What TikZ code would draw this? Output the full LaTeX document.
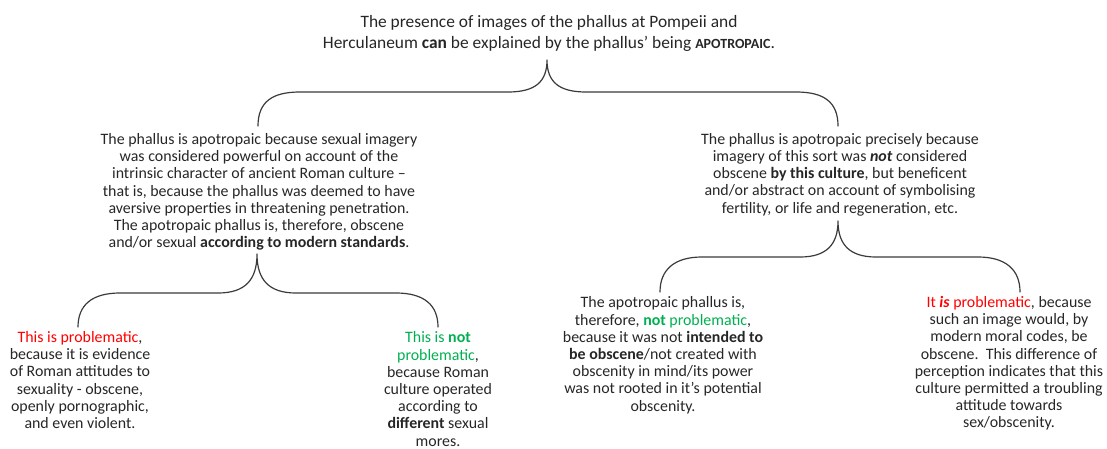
\documentclass[tikz,border=0pt]{standalone}
\usepackage{fontspec}
\setmainfont{Carlito}
\definecolor{txt}{HTML}{262626}
\definecolor{ln}{HTML}{3A3A3A}
\definecolor{red1}{HTML}{FF0000}
\definecolor{grn}{HTML}{00B050}
\newcommand{\smc}[1]{{\fontsize{14}{14}\selectfont #1}}
\begin{document}
\begin{tikzpicture}[x=1pt,y=-1pt,
  txtnode/.style={align=center,inner sep=0pt,anchor=base,text=txt,font=\fontsize{15.9}{17.2}\selectfont},
  topnode/.style={align=center,inner sep=0pt,anchor=base,text=txt,font=\fontsize{17.4}{20.6}\selectfont},
  brace/.style={draw=ln,line width=1.2pt,line cap=round,line join=round}]
\useasboundingbox (0,0) rectangle (1107,449);

\node[topnode] (top) at (549,48.5) {The presence of images of the phallus at Pompeii and\\
Herculaneum \textbf{can} be explained by the phallus’ being \textbf{\smc{APOTROPAIC}}.};

\node[txtnode] (ml) at (259,247.7) {The phallus is apotropaic because sexual imagery\\
was considered powerful on account of the\\
intrinsic character of ancient Roman culture –\\
that is, because the phallus was deemed to have\\
aversive properties in threatening penetration.\\
The apotropaic phallus is, therefore, obscene\\
and/or sexual \textbf{according to modern standards}.};

\node[txtnode] (mr) at (840,213) {The phallus is apotropaic precisely because\\
imagery of this sort was \textbf{\textit{not}} considered\\
obscene \textbf{by this culture}, but beneficent\\
and/or abstract on account of symbolising\\
fertility, or life and regeneration, etc.};

\node[txtnode] (b1) at (80,428.5) {\textcolor{red1}{This is problematic},\\
because it is evidence\\
of Roman attitudes to\\
sexuality - obscene,\\
openly pornographic,\\
and even violent.};

\node[txtnode] (b2) at (438,446) {\textcolor{grn}{This is \textbf{not}}\\
\textcolor{grn}{problematic},\\
because Roman\\
culture operated\\
according to\\
\textbf{different} sexual\\
mores.};

\node[txtnode] (b3) at (663,411) {The apotropaic phallus is,\\
therefore, \textcolor{grn}{\textbf{not} problematic},\\
because it was not \textbf{intended to}\\
\textbf{be obscene}/not created with\\
obscenity in mind/its power\\
was not rooted in it\char39 s potential\\
obscenity.};

\node[txtnode] (b4) at (1009,427.8) {\textcolor{red1}{It \textbf{\textit{is}} problematic}, because\\
such an image would, by\\
modern moral codes, be\\
obscene.\ \ This difference of\\
perception indicates that this\\
culture permitted a troubling\\
attitude towards\\
sex/obscenity.};

% brace coordinates
\coordinate (t1) at (547,60);
\coordinate (l1) at (258,126);
\coordinate (r1) at (838,126);
\coordinate (t2) at (257,254);
\coordinate (l2) at (78,327);
\coordinate (r2) at (438,327);
\coordinate (t3) at (838,221);
\coordinate (l3) at (660,292);
\coordinate (r3) at (1020,292);

\draw[brace] (l1) .. controls (258,102) and (272,92) .. (300,92) -- (508,92)
  .. controls (535,92) and (547,82) .. (t1)
  .. controls (547,82) and (559,92) .. (586,92) -- (796,92)
  .. controls (824,92) and (838,102) .. (r1);

\draw[brace] (l2) .. controls (78,305) and (92,293) .. (120,293) -- (218,293)
  .. controls (245,293) and (257,280) .. (t2)
  .. controls (257,280) and (269,293) .. (296,293) -- (396,293)
  .. controls (424,293) and (438,305) .. (r2);

\draw[brace] (l3) .. controls (660,270) and (674,257) .. (702,257) -- (800,257)
  .. controls (826,257) and (838,245) .. (t3)
  .. controls (838,245) and (850,257) .. (876,257) -- (978,257)
  .. controls (1006,257) and (1020,270) .. (r3);
\end{tikzpicture}
\end{document}
